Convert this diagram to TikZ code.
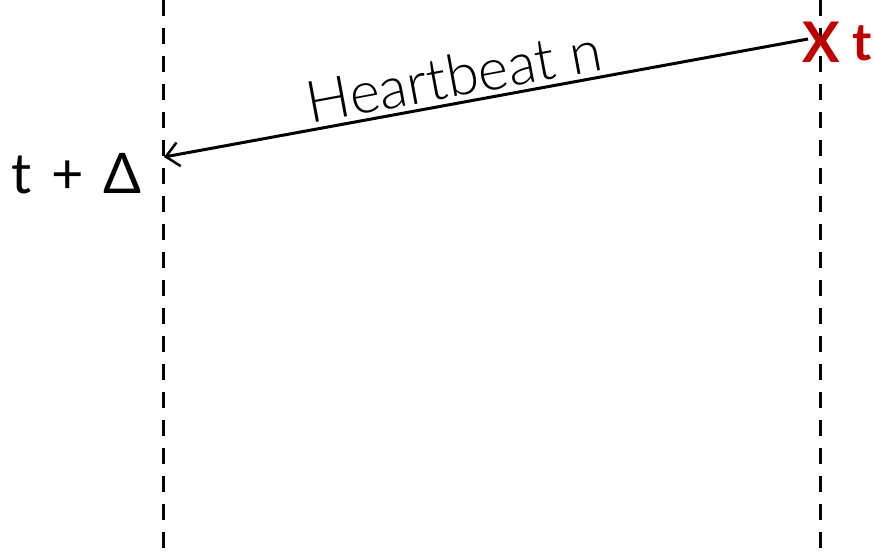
\documentclass[tikz,border=0pt]{standalone}
\usepackage{fontspec}
\setmainfont{Lato}
\newfontfamily\lightfont{Lato Light}
\usetikzlibrary{arrows.meta}
\definecolor{xred}{RGB}{192,0,0}
\begin{document}
\begin{tikzpicture}[x=1pt,y=-1pt,
  lifeline/.style={line width=3pt,dash pattern=on 16pt off 12pt},
  msg/.style={line width=3pt,-{Straight Barb[length=13pt,width=24pt,line width=2.5pt]}},
  lbl/.style={font=\fontsize{56}{56}\selectfont,inner sep=0pt}]
\useasboundingbox (0,0) rectangle (874,556);
\coordinate (ltop) at (163,0);
\coordinate (lbot) at (163,556);
\coordinate (rtop) at (820,0);
\coordinate (rbot) at (820,556);
\draw[lifeline] (ltop) -- (lbot);
\draw[lifeline] (rtop) -- (rbot);
\node[lbl,font=\fontsize{56}{56}\selectfont\bfseries,text=xred,anchor=center] (x) at (821,42) {X};
\node[lbl,font=\fontsize{52}{52}\selectfont\bfseries,text=xred,anchor=base west] (t) at (852,61) {t};
\coordinate (src) at (808,39);
\coordinate (dst) at (164,157);
\draw[msg] (src) -- (dst);
\node[font=\fontsize{58}{58}\selectfont\lightfont,rotate=10.5,inner sep=0pt] (hb) at (454,76) {Heartbeat n};
\node[lbl,anchor=base west] (td) at (11,193) {t\hspace{20pt}+\hspace{20pt}Δ};
\end{tikzpicture}
\end{document}
